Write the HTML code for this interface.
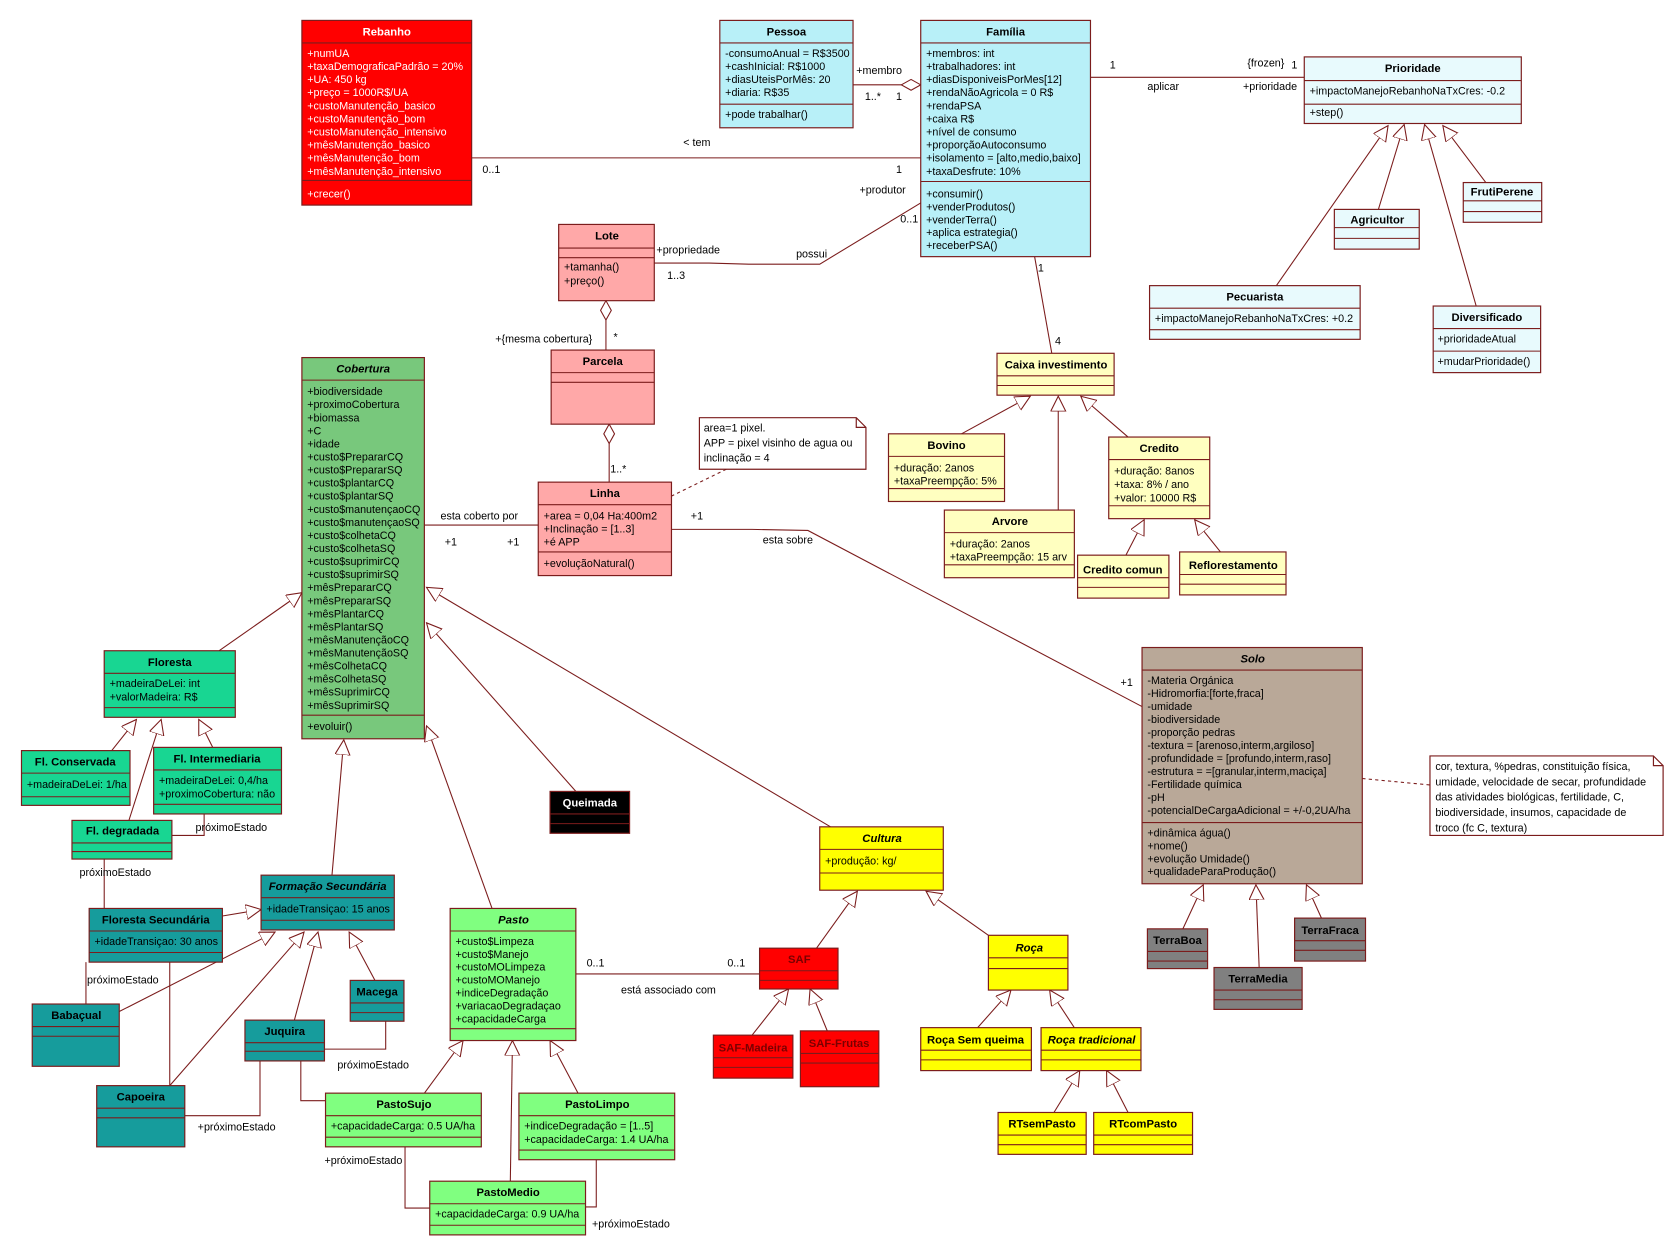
<!DOCTYPE html>
<html><head><meta charset="utf-8"><style>
html,body{margin:0;padding:0;background:#fff;}
svg{display:block;}
text{font-family:"Liberation Sans",sans-serif;font-size:10px;fill:#000;}
.h{font-weight:bold;font-size:10.5px;text-anchor:middle;}
.i{font-style:italic;}
.w{fill:#fff;}
.dr{fill:#7a0000;}
rect,.b{stroke:#7b1c1c;stroke-width:1.1;}
line,polyline,.ln{stroke:#7b1c1c;stroke-width:1;fill:none;}
.g{marker-end:url(#tri);}
.d{stroke-dasharray:3,3;}
</style></head><body>
<svg width="1676" height="1251" viewBox="0 0 1560 1165" preserveAspectRatio="none" xmlns="http://www.w3.org/2000/svg">
<defs>
<marker id="tri" markerUnits="userSpaceOnUse" markerWidth="16" markerHeight="16" refX="14" refY="7" orient="auto" viewBox="0 0 16 16">
<path d="M0,0 L14,7 L0,14 z" fill="#fff" stroke="#7b1c1c" stroke-width="1"/></marker>
<marker id="dia" markerUnits="userSpaceOnUse" markerWidth="20" markerHeight="14" refX="19" refY="6" orient="auto" viewBox="0 0 20 14">
<path d="M1,6 L10,1 L19,6 L10,11 z" fill="#fff" stroke="#7b1c1c" stroke-width="1"/></marker>
</defs>

<!-- ===== connectors ===== -->
<line x1="439" y1="147" x2="857" y2="147"/>
<line x1="794" y1="79" x2="857" y2="79" style="marker-end:url(#dia)"/>
<line x1="1015" y1="72" x2="1214" y2="72"/>
<polyline points="609,245 660,245 697,246 763,246 857,189"/>
<line x1="963" y1="239" x2="979" y2="329"/>
<line x1="564" y1="326" x2="564" y2="280" style="marker-end:url(#dia)"/>
<line x1="567" y1="449" x2="567" y2="395" style="marker-end:url(#dia)"/>
<line class="d" x1="676" y1="437" x2="625" y2="462"/>
<line x1="395" y1="489" x2="501" y2="489"/>
<polyline points="625,493 700,493 752,494 1063,658"/>
<line class="d" x1="1268" y1="725" x2="1331" y2="731"/>
<!-- Prioridade gens -->
<line class="g" x1="1188" y1="266" x2="1292" y2="117"/>
<line class="g" x1="1283" y1="195" x2="1307" y2="116"/>
<line class="g" x1="1374" y1="285" x2="1326" y2="116"/>
<line class="g" x1="1383" y1="170" x2="1343" y2="117"/>
<!-- Caixa gens -->
<line class="g" x1="895" y1="404" x2="959" y2="369"/>
<line class="g" x1="985" y1="475" x2="985" y2="369"/>
<line class="g" x1="1050" y1="407" x2="1006" y2="369"/>
<line class="g" x1="1048" y1="517" x2="1065" y2="484"/>
<line class="g" x1="1136" y1="514" x2="1112" y2="484"/>
<!-- Cobertura gens -->
<line class="g" x1="204" y1="606" x2="281" y2="552"/>
<line class="g" x1="309" y1="815" x2="320" y2="689"/>
<line class="g" x1="458" y1="846" x2="397" y2="676"/>
<line class="g" x1="536" y1="737" x2="397" y2="580"/>
<line class="g" x1="773" y1="770" x2="397" y2="547"/>
<!-- Floresta subs -->
<line class="g" x1="104" y1="699" x2="127" y2="670"/>
<line class="g" x1="120" y1="764" x2="150" y2="670"/>
<line class="g" x1="198" y1="696" x2="185" y2="670"/>
<polyline points="160,778 190,778 190,758"/>
<line x1="97" y1="800" x2="97" y2="846"/>
<!-- Formacao subs -->
<line class="g" x1="207" y1="853" x2="243" y2="847"/>
<line class="g" x1="111" y1="942" x2="256" y2="868"/>
<line class="g" x1="158" y1="1011" x2="283" y2="868"/>
<line class="g" x1="274" y1="950" x2="296" y2="868"/>
<line class="g" x1="349" y1="913" x2="325" y2="868"/>
<line x1="80" y1="896" x2="80" y2="935"/>
<line x1="158" y1="896" x2="158" y2="1011"/>
<polyline points="302,977 359,977 359,951"/>
<polyline points="172,1039 242,1039 242,988"/>
<polyline points="280,988 280,1025 303,1025"/>
<!-- Pasto subs -->
<line class="g" x1="395" y1="1018" x2="431" y2="969"/>
<line class="g" x1="475" y1="1100" x2="477" y2="969"/>
<line class="g" x1="538" y1="1018" x2="512" y2="969"/>
<polyline points="377,1068 377,1125 400,1125"/>
<polyline points="555,1080 555,1124 545,1124"/>
<line x1="536" y1="907" x2="707" y2="907"/>
<!-- Cultura subs -->
<line class="g" x1="760" y1="883" x2="798" y2="830"/>
<line class="g" x1="920" y1="871" x2="862" y2="830"/>
<line class="g" x1="700" y1="964" x2="734" y2="921"/>
<line class="g" x1="770" y1="960" x2="754" y2="921"/>
<line class="g" x1="910" y1="957" x2="941" y2="922"/>
<line class="g" x1="1000" y1="957" x2="977" y2="922"/>
<line class="g" x1="981" y1="1036" x2="1005" y2="997"/>
<line class="g" x1="1050" y1="1036" x2="1030" y2="997"/>
<!-- Solo subs -->
<line class="g" x1="1101" y1="865" x2="1120" y2="824"/>
<line class="g" x1="1172" y1="901" x2="1169" y2="824"/>
<line class="g" x1="1230" y1="855" x2="1216" y2="824"/>

<!-- connector labels -->
<text x="636" y="136">&lt; tem</text>
<text x="449" y="161">0..1</text>
<text x="834" y="161">1</text>
<text x="797" y="69">+membro</text>
<text x="805" y="93">1..*</text>
<text x="834" y="93">1</text>
<text x="1033" y="64">1</text>
<text x="1068" y="84">aplicar</text>
<text x="1161" y="62">{frozen}</text>
<text x="1202" y="64">1</text>
<text x="1157" y="84">+prioridade</text>
<text x="611" y="236">+propriedade</text>
<text x="621" y="260">1..3</text>
<text x="741" y="240">possui</text>
<text x="800" y="180">+produtor</text>
<text x="838" y="207">0..1</text>
<text x="966" y="253">1</text>
<text x="982" y="321">4</text>
<text x="461" y="319">+{mesma cobertura}</text>
<text x="571" y="317">*</text>
<text x="568" y="440">1..*</text>
<text x="410" y="484">esta coberto por</text>
<text x="414" y="508">+1</text>
<text x="472" y="508">+1</text>
<text x="643" y="484">+1</text>
<text x="710" y="506">esta sobre</text>
<text x="1043" y="639">+1</text>
<text x="182" y="774">próximoEstado</text>
<text x="74" y="816">próximoEstado</text>
<text x="81" y="916">próximoEstado</text>
<text x="314" y="995">próximoEstado</text>
<text x="184" y="1053">+próximoEstado</text>
<text x="302" y="1084">+próximoEstado</text>
<text x="551" y="1143">+próximoEstado</text>
<text x="546" y="900">0..1</text>
<text x="677" y="900">0..1</text>
<text x="578" y="925">está associado com</text>

<!-- ===== boxes ===== -->
<!-- Rebanho -->
<rect x="281" y="19" width="158" height="172" fill="#ff0000"/>
<line x1="281" y1="40" x2="439" y2="40"/><line x1="281" y1="168" x2="439" y2="168"/>
<text class="h w" x="360" y="33">Rebanho</text>
<text class="w" x="286" y="53"><tspan x="286">+numUA</tspan><tspan x="286" dy="12.2">+taxaDemograficaPadrão = 20%</tspan><tspan x="286" dy="12.2">+UA: 450 kg</tspan><tspan x="286" dy="12.2">+preço = 1000R$/UA</tspan><tspan x="286" dy="12.2">+custoManutenção_basico</tspan><tspan x="286" dy="12.2">+custoManutenção_bom</tspan><tspan x="286" dy="12.2">+custoManutenção_intensivo</tspan><tspan x="286" dy="12.2">+mêsManutenção_basico</tspan><tspan x="286" dy="12.2">+mêsManutenção_bom</tspan><tspan x="286" dy="12.2">+mêsManutenção_intensivo</tspan></text>
<text class="w" x="286" y="184">+crecer()</text>

<!-- Pessoa -->
<rect x="670" y="19" width="124" height="100" fill="#b8f0f8"/>
<line x1="670" y1="40" x2="794" y2="40"/><line x1="670" y1="97" x2="794" y2="97"/>
<text class="h" x="732" y="33">Pessoa</text>
<text x="675" y="53"><tspan x="675">-consumoAnual = R$3500</tspan><tspan x="675" dy="12.2">+cashInicial: R$1000</tspan><tspan x="675" dy="12.2">+diasUteisPorMês: 20</tspan><tspan x="675" dy="12.2">+diaria: R$35</tspan></text>
<text x="675" y="110">+pode trabalhar()</text>

<!-- Familia -->
<rect x="857" y="19" width="158" height="220" fill="#b8f0f8"/>
<line x1="857" y1="40" x2="1015" y2="40"/><line x1="857" y1="169" x2="1015" y2="169"/>
<text class="h" x="936" y="33">Família</text>
<text x="862" y="53"><tspan x="862">+membros: int</tspan><tspan x="862" dy="12.2">+trabalhadores: int</tspan><tspan x="862" dy="12.2">+diasDisponiveisPorMes[12]</tspan><tspan x="862" dy="12.2">+rendaNãoAgricola = 0 R$</tspan><tspan x="862" dy="12.2">+rendaPSA</tspan><tspan x="862" dy="12.2">+caixa R$</tspan><tspan x="862" dy="12.2">+nível de consumo</tspan><tspan x="862" dy="12.2">+proporçãoAutoconsumo</tspan><tspan x="862" dy="12.2">+isolamento = [alto,medio,baixo]</tspan><tspan x="862" dy="12.2">+taxaDesfrute: 10%</tspan></text>
<text x="862" y="184"><tspan x="862">+consumir()</tspan><tspan x="862" dy="12">+venderProdutos()</tspan><tspan x="862" dy="12">+venderTerra()</tspan><tspan x="862" dy="12">+aplica estrategia()</tspan><tspan x="862" dy="12">+receberPSA()</tspan></text>

<!-- Prioridade -->
<rect x="1214" y="53" width="202" height="62" fill="#e8fafd"/>
<line x1="1214" y1="75" x2="1416" y2="75"/><line x1="1214" y1="97" x2="1416" y2="97"/>
<text class="h" x="1315" y="67">Prioridade</text>
<text x="1219" y="88">+impactoManejoRebanhoNaTxCres: -0.2</text>
<text x="1219" y="108">+step()</text>

<rect x="1362" y="170" width="73" height="37" fill="#e8fafd"/>
<line x1="1362" y1="187" x2="1435" y2="187"/><line x1="1362" y1="197" x2="1435" y2="197"/>
<text class="h" x="1398" y="182">FrutiPerene</text>

<rect x="1242" y="195" width="79" height="37" fill="#e8fafd"/>
<line x1="1242" y1="212" x2="1321" y2="212"/><line x1="1242" y1="222" x2="1321" y2="222"/>
<text class="h" x="1282" y="208">Agricultor</text>

<rect x="1070" y="266" width="196" height="50" fill="#e8fafd"/>
<line x1="1070" y1="287" x2="1266" y2="287"/><line x1="1070" y1="307" x2="1266" y2="307"/>
<text class="h" x="1168" y="280">Pecuarista</text>
<text x="1075" y="300">+impactoManejoRebanhoNaTxCres: +0.2</text>

<rect x="1334" y="285" width="100" height="62" fill="#e8fafd"/>
<line x1="1334" y1="306" x2="1434" y2="306"/><line x1="1334" y1="327" x2="1434" y2="327"/>
<text class="h" x="1384" y="299">Diversificado</text>
<text x="1338" y="319">+prioridadeAtual</text>
<text x="1338" y="340">+mudarPrioridade()</text>

<!-- Lote / Parcela / Linha -->
<rect x="520" y="209" width="89" height="71" fill="#ffa8a8"/>
<line x1="520" y1="231" x2="609" y2="231"/><line x1="520" y1="240" x2="609" y2="240"/>
<text class="h" x="565" y="223">Lote</text>
<text x="525" y="252"><tspan x="525">+tamanha()</tspan><tspan x="525" dy="13">+preço()</tspan></text>

<rect x="513" y="326" width="96" height="69" fill="#ffa8a8"/>
<line x1="513" y1="347" x2="609" y2="347"/><line x1="513" y1="356" x2="609" y2="356"/>
<text class="h" x="561" y="340">Parcela</text>

<rect x="501" y="449" width="124" height="87" fill="#ffa8a8"/>
<line x1="501" y1="470" x2="625" y2="470"/><line x1="501" y1="514" x2="625" y2="514"/>
<text class="h" x="563" y="463">Linha</text>
<text x="506" y="484"><tspan x="506">+area = 0,04 Ha:400m2</tspan><tspan x="506" dy="12">+Inclinação = [1..3]</tspan><tspan x="506" dy="12">+é APP</tspan></text>
<text x="506" y="528">+evoluçãoNatural()</text>

<path class="b" d="M651,389 L797,389 L806,398 L806,437 L651,437 z M797,389 L797,398 L806,398" fill="#fff"/>
<text x="655" y="402"><tspan x="655">area=1 pixel.</tspan><tspan x="655" dy="14">APP = pixel visinho de agua ou</tspan><tspan x="655" dy="14">inclinação = 4</tspan></text>

<!-- Caixa investimento -->
<rect x="928" y="329" width="109" height="39" fill="#ffffc0"/>
<line x1="928" y1="350" x2="1037" y2="350"/><line x1="928" y1="359" x2="1037" y2="359"/>
<text class="h" x="983" y="343">Caixa investimento</text>

<rect x="827" y="404" width="108" height="63" fill="#ffffc0"/>
<line x1="827" y1="425" x2="935" y2="425"/><line x1="827" y1="455" x2="935" y2="455"/>
<text class="h" x="881" y="418">Bovino</text>
<text x="832" y="439"><tspan x="832">+duração: 2anos</tspan><tspan x="832" dy="12">+taxaPreempção: 5%</tspan></text>

<rect x="879" y="475" width="121" height="63" fill="#ffffc0"/>
<line x1="879" y1="496" x2="1000" y2="496"/><line x1="879" y1="526" x2="1000" y2="526"/>
<text class="h" x="940" y="489">Arvore</text>
<text x="884" y="510"><tspan x="884">+duração: 2anos</tspan><tspan x="884" dy="12">+taxaPreempção: 15 arv</tspan></text>

<rect x="1032" y="407" width="94" height="76" fill="#ffffc0"/>
<line x1="1032" y1="428" x2="1126" y2="428"/><line x1="1032" y1="471" x2="1126" y2="471"/>
<text class="h" x="1079" y="421">Credito</text>
<text x="1037" y="442"><tspan x="1037">+duração: 8anos</tspan><tspan x="1037" dy="12.5">+taxa: 8% / ano</tspan><tspan x="1037" dy="12.5">+valor: 10000 R$</tspan></text>

<rect x="1003" y="517" width="85" height="40" fill="#ffffc0"/>
<line x1="1003" y1="538" x2="1088" y2="538"/><line x1="1003" y1="547" x2="1088" y2="547"/>
<text class="h" x="1045" y="534">Credito comun</text>

<rect x="1098" y="514" width="99" height="40" fill="#ffffc0"/>
<line x1="1098" y1="535" x2="1197" y2="535"/><line x1="1098" y1="544" x2="1197" y2="544"/>
<text class="h" x="1148" y="530">Reflorestamento</text>

<!-- Cobertura -->
<rect x="281" y="333" width="114" height="355" fill="#78c87c"/>
<line x1="281" y1="354" x2="395" y2="354"/><line x1="281" y1="666" x2="395" y2="666"/>
<text class="h i" x="338" y="347">Cobertura</text>
<text x="286" y="368"><tspan x="286">+biodiversidade</tspan><tspan x="286" dy="12.17">+proximoCobertura</tspan><tspan x="286" dy="12.17">+biomassa</tspan><tspan x="286" dy="12.17">+C</tspan><tspan x="286" dy="12.17">+idade</tspan><tspan x="286" dy="12.17">+custo$PrepararCQ</tspan><tspan x="286" dy="12.17">+custo$PrepararSQ</tspan><tspan x="286" dy="12.17">+custo$plantarCQ</tspan><tspan x="286" dy="12.17">+custo$plantarSQ</tspan><tspan x="286" dy="12.17">+custo$manutençaoCQ</tspan><tspan x="286" dy="12.17">+custo$manutençaoSQ</tspan><tspan x="286" dy="12.17">+custo$colhetaCQ</tspan><tspan x="286" dy="12.17">+custo$colhetaSQ</tspan><tspan x="286" dy="12.17">+custo$suprimirCQ</tspan><tspan x="286" dy="12.17">+custo$suprimirSQ</tspan><tspan x="286" dy="12.17">+mêsPrepararCQ</tspan><tspan x="286" dy="12.17">+mêsPrepararSQ</tspan><tspan x="286" dy="12.17">+mêsPlantarCQ</tspan><tspan x="286" dy="12.17">+mêsPlantarSQ</tspan><tspan x="286" dy="12.17">+mêsManutençãoCQ</tspan><tspan x="286" dy="12.17">+mêsManutençãoSQ</tspan><tspan x="286" dy="12.17">+mêsColhetaCQ</tspan><tspan x="286" dy="12.17">+mêsColhetaSQ</tspan><tspan x="286" dy="12.17">+mêsSuprimirCQ</tspan><tspan x="286" dy="12.17">+mêsSuprimirSQ</tspan></text>
<text x="286" y="680">+evoluir()</text>

<!-- Floresta family -->
<rect x="97" y="606" width="122" height="62" fill="#18d692"/>
<line x1="97" y1="627" x2="219" y2="627"/><line x1="97" y1="659" x2="219" y2="659"/>
<text class="h" x="158" y="620">Floresta</text>
<text x="102" y="640"><tspan x="102">+madeiraDeLei: int</tspan><tspan x="102" dy="12.5">+valorMadeira: R$</tspan></text>

<rect x="20" y="699" width="101" height="51" fill="#18d692"/>
<line x1="20" y1="720" x2="121" y2="720"/><line x1="20" y1="742" x2="121" y2="742"/>
<text class="h" x="70" y="713">Fl. Conservada</text>
<text x="25" y="734">+madeiraDeLei: 1/ha</text>

<rect x="143" y="696" width="119" height="62" fill="#18d692"/>
<line x1="143" y1="717" x2="262" y2="717"/><line x1="143" y1="749" x2="262" y2="749"/>
<text class="h" x="202" y="710">Fl. Intermediaria</text>
<text x="148" y="730"><tspan x="148">+madeiraDeLei: 0,4/ha</tspan><tspan x="148" dy="12.5">+proximoCobertura: não</tspan></text>

<rect x="67" y="764" width="93" height="36" fill="#18d692"/>
<line x1="67" y1="785" x2="160" y2="785"/><line x1="67" y1="793" x2="160" y2="793"/>
<text class="h" x="114" y="777">Fl. degradada</text>

<!-- Formacao secundaria family -->
<rect x="243" y="815" width="124" height="51" fill="#169c9c"/>
<line x1="243" y1="836" x2="367" y2="836"/><line x1="243" y1="857" x2="367" y2="857"/>
<text class="h i" x="305" y="829">Formação Secundária</text>
<text x="248" y="850">+idadeTransiçao: 15 anos</text>

<rect x="83" y="846" width="124" height="50" fill="#169c9c"/>
<line x1="83" y1="867" x2="207" y2="867"/><line x1="83" y1="887" x2="207" y2="887"/>
<text class="h" x="145" y="860">Floresta Secundária</text>
<text x="88" y="880">+idadeTransiçao: 30 anos</text>

<rect x="30" y="935" width="81" height="58" fill="#169c9c"/>
<line x1="30" y1="956" x2="111" y2="956"/><line x1="30" y1="965" x2="111" y2="965"/>
<text class="h" x="71" y="949">Babaçual</text>

<rect x="326" y="913" width="50" height="38" fill="#169c9c"/>
<line x1="326" y1="934" x2="376" y2="934"/><line x1="326" y1="943" x2="376" y2="943"/>
<text class="h" x="351" y="927">Macega</text>

<rect x="228" y="950" width="74" height="38" fill="#169c9c"/>
<line x1="228" y1="971" x2="302" y2="971"/><line x1="228" y1="979" x2="302" y2="979"/>
<text class="h" x="265" y="964">Juquira</text>

<rect x="90" y="1011" width="82" height="57" fill="#169c9c"/>
<line x1="90" y1="1032" x2="172" y2="1032"/><line x1="90" y1="1041" x2="172" y2="1041"/>
<text class="h" x="131" y="1025">Capoeira</text>

<!-- Queimada -->
<rect x="512" y="737" width="74" height="39" fill="#000"/>
<line x1="512" y1="758" x2="586" y2="758"/><line x1="512" y1="767" x2="586" y2="767"/>
<text class="h w" x="549" y="751">Queimada</text>

<!-- Pasto family -->
<rect x="419" y="846" width="117" height="123" fill="#80ff80"/>
<line x1="419" y1="867" x2="536" y2="867"/><line x1="419" y1="958" x2="536" y2="958"/>
<text class="h i" x="478" y="860">Pasto</text>
<text x="424" y="880"><tspan x="424">+custo$Limpeza</tspan><tspan x="424" dy="12">+custo$Manejo</tspan><tspan x="424" dy="12">+custoMOLimpeza</tspan><tspan x="424" dy="12">+custoMOManejo</tspan><tspan x="424" dy="12">+indiceDegradação</tspan><tspan x="424" dy="12">+variacaoDegradaçao</tspan><tspan x="424" dy="12">+capacidadeCarga</tspan></text>

<rect x="303" y="1018" width="145" height="50" fill="#80ff80"/>
<line x1="303" y1="1039" x2="448" y2="1039"/><line x1="303" y1="1059" x2="448" y2="1059"/>
<text class="h" x="376" y="1032">PastoSujo</text>
<text x="308" y="1052">+capacidadeCarga: 0.5 UA/ha</text>

<rect x="483" y="1018" width="145" height="62" fill="#80ff80"/>
<line x1="483" y1="1039" x2="628" y2="1039"/><line x1="483" y1="1071" x2="628" y2="1071"/>
<text class="h" x="556" y="1032">PastoLimpo</text>
<text x="488" y="1052"><tspan x="488">+indiceDegradação = [1..5]</tspan><tspan x="488" dy="12.5">+capacidadeCarga: 1.4 UA/ha</tspan></text>

<rect x="400" y="1100" width="145" height="50" fill="#80ff80"/>
<line x1="400" y1="1121" x2="545" y2="1121"/><line x1="400" y1="1141" x2="545" y2="1141"/>
<text class="h" x="473" y="1114">PastoMedio</text>
<text x="405" y="1134">+capacidadeCarga: 0.9 UA/ha</text>

<!-- Cultura family -->
<rect x="763" y="770" width="115" height="59" fill="#ffff00"/>
<line x1="763" y1="791" x2="878" y2="791"/><line x1="763" y1="813" x2="878" y2="813"/>
<text class="h i" x="821" y="784">Cultura</text>
<text x="768" y="805">+produção: kg/</text>

<rect x="707" y="883" width="73" height="38" fill="#ff0000"/>
<line x1="707" y1="904" x2="780" y2="904"/><line x1="707" y1="913" x2="780" y2="913"/>
<text class="h dr" x="744" y="897">SAF</text>

<rect x="664" y="964" width="74" height="40" fill="#ff0000"/>
<line x1="664" y1="985" x2="738" y2="985"/><line x1="664" y1="994" x2="738" y2="994"/>
<text class="h dr" x="701" y="979">SAF-Madeira</text>

<rect x="745" y="960" width="73" height="52" fill="#ff0000"/>
<line x1="745" y1="981" x2="818" y2="981"/><line x1="745" y1="990" x2="818" y2="990"/>
<text class="h dr" x="781" y="975">SAF-Frutas</text>

<rect x="920" y="871" width="74" height="51" fill="#ffff00"/>
<line x1="920" y1="892" x2="994" y2="892"/><line x1="920" y1="902" x2="994" y2="902"/>
<text class="h i" x="958" y="886">Roça</text>

<rect x="857" y="957" width="103" height="40" fill="#ffff00"/>
<line x1="857" y1="978" x2="960" y2="978"/><line x1="857" y1="987" x2="960" y2="987"/>
<text class="h" x="908" y="972">Roça Sem queima</text>

<rect x="969" y="957" width="93" height="40" fill="#ffff00"/>
<line x1="969" y1="978" x2="1062" y2="978"/><line x1="969" y1="987" x2="1062" y2="987"/>
<text class="h i" x="1016" y="972">Roça tradicional</text>

<rect x="929" y="1036" width="82" height="39" fill="#ffff00"/>
<line x1="929" y1="1057" x2="1011" y2="1057"/><line x1="929" y1="1066" x2="1011" y2="1066"/>
<text class="h" x="970" y="1050">RTsemPasto</text>

<rect x="1018" y="1036" width="92" height="39" fill="#ffff00"/>
<line x1="1018" y1="1057" x2="1110" y2="1057"/><line x1="1018" y1="1066" x2="1110" y2="1066"/>
<text class="h" x="1064" y="1050">RTcomPasto</text>

<!-- Solo -->
<rect x="1063" y="603" width="205" height="220" fill="#b9a898"/>
<line x1="1063" y1="624" x2="1268" y2="624"/><line x1="1063" y1="766" x2="1268" y2="766"/>
<text class="h i" x="1166" y="617">Solo</text>
<text x="1068" y="637"><tspan x="1068">-Materia Orgánica</tspan><tspan x="1068" dy="12.1">-Hidromorfia:[forte,fraca]</tspan><tspan x="1068" dy="12.1">-umidade</tspan><tspan x="1068" dy="12.1">-biodiversidade</tspan><tspan x="1068" dy="12.1">-proporção pedras</tspan><tspan x="1068" dy="12.1">-textura = [arenoso,interm,argiloso]</tspan><tspan x="1068" dy="12.1">-profundidade = [profundo,interm,raso]</tspan><tspan x="1068" dy="12.1">-estrutura = =[granular,interm,maciça]</tspan><tspan x="1068" dy="12.1">-Fertilidade química</tspan><tspan x="1068" dy="12.1">-pH</tspan><tspan x="1068" dy="12.1">-potencialDeCargaAdicional = +/-0,2UA/ha</tspan></text>
<text x="1068" y="779"><tspan x="1068">+dinâmica água()</tspan><tspan x="1068" dy="12">+nome()</tspan><tspan x="1068" dy="12">+evolução Umidade()</tspan><tspan x="1068" dy="12">+qualidadeParaProdução()</tspan></text>

<rect x="1068" y="865" width="56" height="37" fill="#808080"/>
<line x1="1068" y1="886" x2="1124" y2="886"/><line x1="1068" y1="895" x2="1124" y2="895"/>
<text class="h" x="1096" y="879">TerraBoa</text>

<rect x="1130" y="901" width="82" height="39" fill="#808080"/>
<line x1="1130" y1="922" x2="1212" y2="922"/><line x1="1130" y1="931" x2="1212" y2="931"/>
<text class="h" x="1171" y="915">TerraMedia</text>

<rect x="1205" y="855" width="66" height="40" fill="#808080"/>
<line x1="1205" y1="876" x2="1271" y2="876"/><line x1="1205" y1="885" x2="1271" y2="885"/>
<text class="h" x="1238" y="870">TerraFraca</text>

<path class="b" d="M1331,704 L1539,704 L1548,713 L1548,778 L1331,778 z M1539,704 L1539,713 L1548,713" fill="#fff"/>
<text x="1336" y="717"><tspan x="1336">cor, textura, %pedras, constituição física,</tspan><tspan x="1336" dy="14.3">umidade, velocidade de secar, profundidade</tspan><tspan x="1336" dy="14.3">das atividades biológicas, fertilidade, C,</tspan><tspan x="1336" dy="14.3">biodiversidade, insumos, capacidade de</tspan><tspan x="1336" dy="14.3">troco (fc C, textura)</tspan></text>
</svg>
</body></html>
